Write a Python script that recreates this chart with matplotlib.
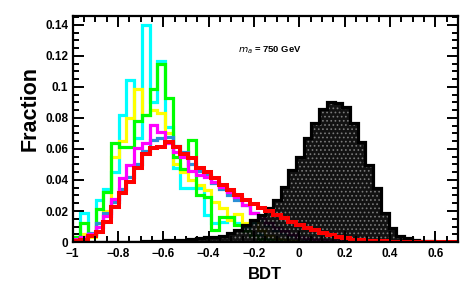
import numpy as np
import matplotlib
matplotlib.use("Agg")
import matplotlib.pyplot as plt
from matplotlib.ticker import MultipleLocator

# 50 bins on [-1, 0.7]
edges = np.linspace(-1.0, 0.7, 51)

cyan = [0.0, 0.0185, 0.005, 0.027, 0.034, 0.045, 0.082, 0.1045, 0.067, 0.14,
        0.090, 0.117, 0.074, 0.048, 0.035, 0.035, 0.035, 0.0175, 0.012, 0.013,
        0.016, 0.012, 0.009, 0.012, 0.005, 0.003, 0.002, 0.001, 0.0005, 0.0003,
        0, 0, 0, 0, 0, 0, 0, 0, 0, 0,
        0, 0, 0, 0, 0, 0, 0, 0, 0, 0]
yellow = [0.001, 0.005, 0.003, 0.012, 0.02, 0.055, 0.065, 0.08, 0.0985, 0.082,
          0.085, 0.083, 0.07, 0.05, 0.045, 0.04, 0.037, 0.0335, 0.026, 0.022,
          0.014, 0.018, 0.012, 0.014, 0.008, 0.004, 0.002, 0.001, 0.0005, 0.0003,
          0, 0, 0, 0, 0, 0, 0, 0, 0, 0,
          0, 0, 0, 0, 0, 0, 0, 0, 0, 0]
green = [0.003, 0.012, 0.0045, 0.021, 0.032, 0.064, 0.0615, 0.0615, 0.078, 0.082,
         0.099, 0.115, 0.093, 0.055, 0.047, 0.066, 0.030, 0.029, 0.008, 0.0163,
         0.016, 0.011, 0.007, 0.004, 0.002, 0.001, 0.0005, 0, 0, 0,
         0, 0, 0, 0, 0, 0, 0, 0, 0, 0,
         0, 0, 0, 0, 0, 0, 0, 0, 0, 0]
blue = [0.001, 0.003, 0.006, 0.012, 0.019, 0.026, 0.034, 0.042, 0.050, 0.059,
        0.066, 0.067, 0.068, 0.062, 0.058, 0.050, 0.046, 0.043, 0.038, 0.034,
        0.030, 0.027, 0.024, 0.019, 0.014, 0.011, 0.008, 0.006, 0.004, 0.003,
        0.002, 0.0012, 0.0008, 0.0004, 0, 0, 0, 0, 0, 0,
        0, 0, 0, 0, 0, 0, 0, 0, 0, 0]
magenta = [0.002, 0.003, 0.005, 0.010, 0.017, 0.028, 0.041, 0.0497, 0.0606, 0.064,
           0.0755, 0.071, 0.064, 0.058, 0.055, 0.046, 0.043, 0.042, 0.039, 0.0357,
           0.0325, 0.029, 0.024, 0.019, 0.016, 0.012, 0.009, 0.007, 0.005, 0.0035,
           0.0025, 0.0018, 0.0012, 0.0008, 0.0005, 0, 0, 0, 0, 0,
           0, 0, 0, 0, 0, 0, 0, 0, 0, 0]
red = [0.0008, 0.0013, 0.004, 0.0066, 0.013, 0.0228, 0.0315, 0.039, 0.048, 0.057,
       0.0606, 0.0615, 0.0647, 0.0615, 0.057, 0.054, 0.048, 0.045, 0.041, 0.0368,
       0.0335, 0.0303, 0.027, 0.0243, 0.0222, 0.020, 0.0174, 0.0153, 0.013, 0.011,
       0.0088, 0.0077, 0.006, 0.0045, 0.0034, 0.0024, 0.0016, 0.0012, 0.0009, 0.0006,
       0.0004, 0.0003, 0.0002, 0.0002, 0.0001, 0.0001, 0, 0, 0, 0]
background = [0, 0, 0, 0, 0, 0.0001, 0.0002, 0.0002, 0.0003, 0.0004,
              0.0005, 0.0008, 0.001, 0.0012, 0.0015, 0.002, 0.0025, 0.003, 0.0035, 0.004,
              0.0055, 0.0075, 0.011, 0.014, 0.0175, 0.022, 0.027, 0.0357, 0.0465, 0.055,
              0.0669, 0.077, 0.0856, 0.0905, 0.0895, 0.0873, 0.0766, 0.0647, 0.0497, 0.0346,
              0.0185, 0.0092, 0.0041, 0.0024, 0.0013, 0.0008, 0.0005, 0.0003, 0.0002, 0.0001]

plt.rcParams['font.family'] = ['Liberation Sans', 'DejaVu Sans']
plt.rcParams['hatch.linewidth'] = 0.7

fig = plt.figure(figsize=(4.77, 3.07), dpi=100)
ax = fig.add_axes([0.152, 0.2117, 0.808, 0.7363])

lw = 2.3
ax.stairs(cyan, edges, color='#00ffff', lw=lw)
ax.stairs(yellow, edges, color='#ffff00', lw=lw)
ax.stairs(green, edges, color='#00ff00', lw=lw)
ax.stairs(blue, edges, color='#2a8fd6', lw=lw)
ax.stairs(magenta, edges, color='#ff00ff', lw=lw)
ax.stairs(background, edges, fill=True, facecolor=(0, 0, 0, 0.93),
          edgecolor='#7a7a7a', hatch='....', lw=0)
ax.stairs(background, edges, color='black', lw=lw)
ax.stairs(red, edges, color='#ff0000', lw=lw + 0.6)

ax.set_xlim(-1, 0.7)
ax.set_ylim(0, 0.1458)

ax.xaxis.set_major_locator(MultipleLocator(0.2))
ax.xaxis.set_minor_locator(MultipleLocator(0.05))
ax.yaxis.set_major_locator(MultipleLocator(0.02))
ax.yaxis.set_minor_locator(MultipleLocator(0.005))
ax.tick_params(which='both', direction='in', top=True, right=True, width=1.4)
ax.tick_params(which='major', length=8, labelsize=8.5)
ax.tick_params(axis='x', which='major', pad=4)
ax.tick_params(axis='y', which='major', pad=3)
ax.tick_params(which='minor', length=4)
for lab in ax.get_xticklabels() + ax.get_yticklabels():
    lab.set_fontweight('bold')
ax.xaxis.set_major_formatter(lambda v, p: '0' if abs(v) < 1e-9 else ('%g' % v).replace('-', '\u2212'))
ax.yaxis.set_major_formatter(lambda v, p: '0' if abs(v) < 1e-9 else '%g' % v)
for s in ax.spines.values():
    s.set_linewidth(1.6)

ax.set_xlabel('BDT', fontsize=12, fontweight='bold', labelpad=5)
fig.text(0.064, 0.645, 'Fraction', rotation=90, fontsize=15.5, fontweight='bold',
         ha='center', va='center')
ax.text(-0.27, 0.124, r'$m_{a}$ = 750 GeV', fontsize=6.8, fontweight='bold',
        ha='left', va='center')

fig.savefig('out.png', dpi=100)
